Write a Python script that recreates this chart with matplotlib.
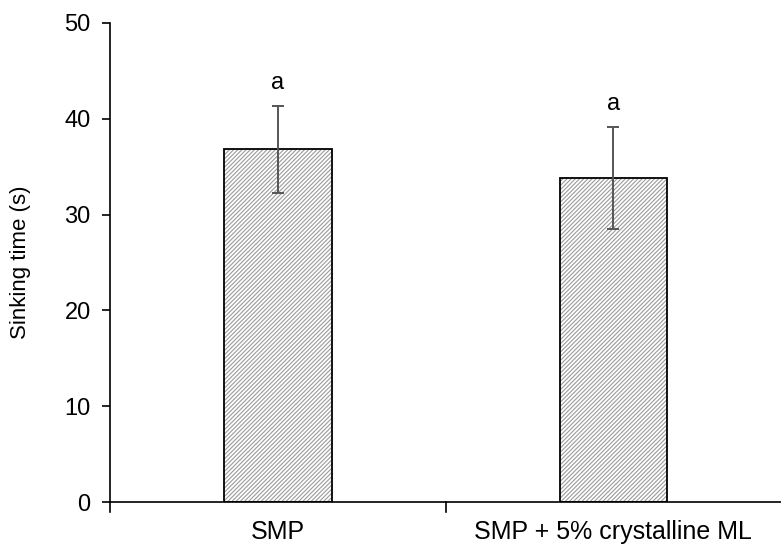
import numpy as np
import matplotlib.pyplot as plt

plt.rcParams['font.family'] = ['Liberation Sans', 'DejaVu Sans']
plt.rcParams['hatch.linewidth'] = 0.8

categories = ["SMP", "SMP + 5% crystalline ML"]
sinking_time = [36.8, 33.8]
sd = [4.5, 5.3]
letters = ["a", "a"]

x = np.arange(len(categories))

fig = plt.figure(figsize=(7.81, 5.47), dpi=100)
ax = fig.add_axes([0.141, 0.082, 0.859, 0.876])

# hatched fill first, then a plain black outline on top
ax.bar(x, sinking_time, width=0.32, color="white", edgecolor="#9a9a9a",
       hatch="////////", linewidth=0, zorder=2)
ax.bar(x, sinking_time, width=0.32, fill=False, edgecolor="black",
       linewidth=1.3, zorder=3)
ax.errorbar(x, sinking_time, yerr=sd, fmt="none", ecolor="#555555",
            elinewidth=1.4, capsize=4, capthick=1.4, zorder=4)

for xi, v, e, lab in zip(x, sinking_time, sd, letters):
    ax.text(xi, v + e + 1.3, lab, ha="center", va="bottom", fontsize=17)

ax.set_xlim(-0.5, 1.5)
ax.set_ylim(0, 50)
ax.set_yticks(np.arange(0, 51, 10))
ax.set_ylabel("Sinking time (s)", fontsize=16, labelpad=24)

# boundary ticks between groups, labels centred under the bars
ax.set_xticks([-0.5, 0.5, 1.5])
ax.set_xticklabels([])
ax.set_xticks(x, minor=True)
ax.set_xticklabels(categories, minor=True, fontsize=18)
ax.tick_params(axis="x", which="minor", length=0, pad=13)
ax.tick_params(axis="x", which="major", direction="in", length=0)
ax.tick_params(axis="y", labelsize=17, length=6, width=1.2, pad=8)

for xb in [-0.5, 0.5]:
    ax.plot([xb, xb], [0, -1.0], color="black", lw=1.2, clip_on=False)

ax.spines["top"].set_visible(False)
ax.spines["right"].set_visible(False)
ax.spines["left"].set_linewidth(1.2)
ax.spines["bottom"].set_linewidth(1.2)

fig.savefig("out.png", dpi=100)
